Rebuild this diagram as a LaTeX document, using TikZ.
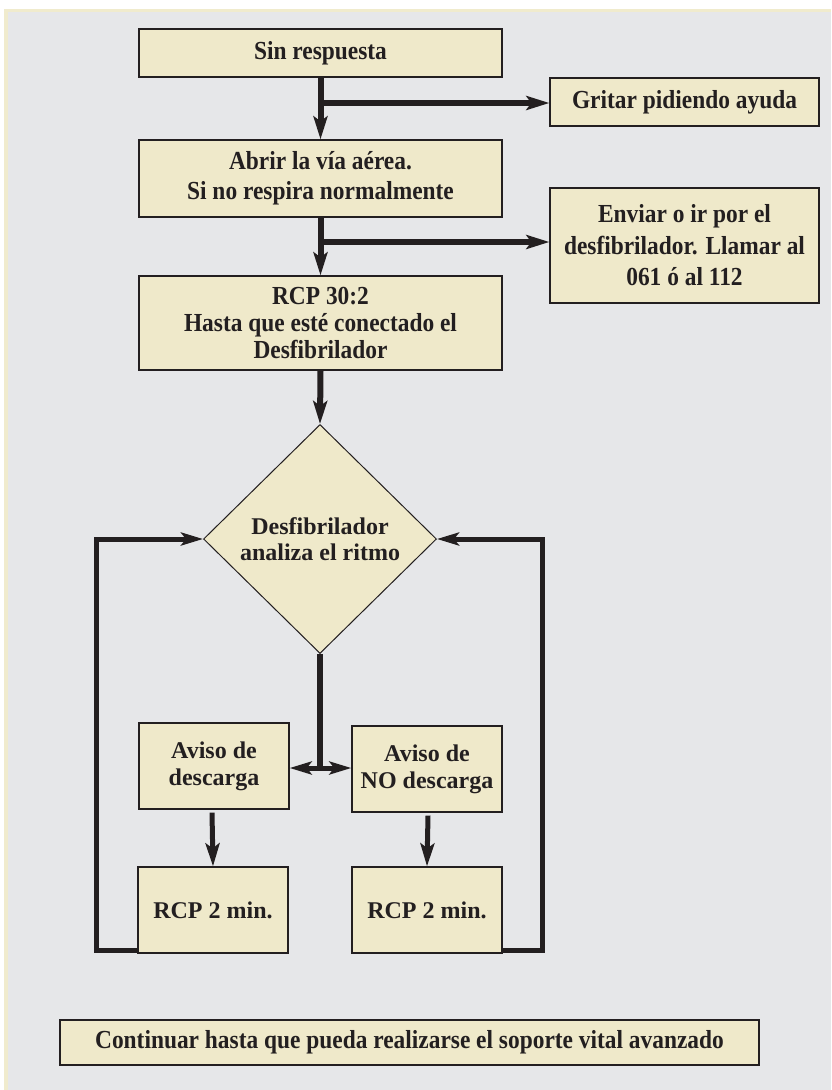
\documentclass[tikz,border=0pt]{standalone}
\usepackage{fontspec}
\setmainfont{Liberation Serif}
\newfontfamily\condfont{Liberation Serif}[FakeStretch=0.9]
\usetikzlibrary{arrows.meta,shapes.geometric,calc}
\definecolor{boxfill}{RGB}{239,233,202}
\definecolor{bgray}{RGB}{230,231,233}
\definecolor{framebeige}{RGB}{240,235,205}
\definecolor{ink}{RGB}{35,31,32}
\tikzset{
  flowbox/.style={draw=ink, line width=1.3pt, fill=boxfill, inner sep=0pt, align=center,
    font=\condfont\bfseries\fontsize{26}{30}\selectfont, text=ink},
  smallbox/.style={draw=ink, line width=1.3pt, fill=boxfill, inner sep=0pt, align=center,
    minimum width=150pt, minimum height=86pt,
    font=\bfseries\fontsize{24}{27}\selectfont, text=ink},
  decide/.style={draw=ink, line width=1pt, fill=boxfill, shape=diamond, inner sep=0pt, align=center,
    minimum width=233pt, minimum height=229pt,
    font=\bfseries\fontsize{24}{26}\selectfont, text=ink},
  flowarrow/.style={draw=ink, line width=6pt, -{Stealth[length=23pt,width=14pt,inset=5pt]}},
  flowline/.style={draw=ink, line width=6pt},
  loopline/.style={draw=ink, line width=5pt, line join=miter},
  looparrow/.style={draw=ink, line width=5pt, line join=miter, -{Stealth[length=22pt,width=13pt,inset=5pt]}},
  bothway/.style={draw=ink, line width=5pt, {Stealth[length=22pt,width=13pt,inset=5pt]}-{Stealth[length=22pt,width=13pt,inset=5pt]}},
}
\begin{document}
\begin{tikzpicture}[x=1pt,y=-1pt]
  % background
  \fill[white] (0,0) rectangle (831,1090);
  \fill[framebeige] (4,9) rectangle (831,1090);
  \fill[bgray] (8,12) rectangle (831,1090);
  \useasboundingbox (0,0) rectangle (831,1090);

  % nodes
  \node[flowbox, minimum width=363pt, minimum height=48pt] (sin) at (320.5,53) {Sin respuesta};
  \node[flowbox, minimum width=269pt, minimum height=48pt] (gritar) at (684.5,102) {Gritar pidiendo ayuda};
  \node[flowbox, minimum width=363pt, minimum height=77pt,
        font=\condfont\bfseries\fontsize{26}{30}\selectfont] (abrir) at (320.5,178.5)
        {Abrir la vía aérea.\\Si no respira normalmente};
  \node[flowbox, minimum width=269pt, minimum height=115pt,
        font=\condfont\bfseries\fontsize{26}{31.5}\selectfont] (enviar) at (684.5,245.5)
        {Enviar o ir por el\\desfibrilador. Llamar al\\061 ó al 112};
  \node[flowbox, minimum width=363pt, minimum height=94pt,
        font=\condfont\bfseries\fontsize{26}{26.7}\selectfont] (rcp) at (320.5,323)
        {RCP 30:2\\Hasta que esté conectado el\\Desfibrilador};
  \node[decide] (dec) at (320,539) {Desfibrilador\\analiza el ritmo};
  \node[smallbox] (avisoA) at (214,766) {Aviso de\\descarga};
  \node[smallbox] (avisoB) at (427,769) {Aviso de\\NO descarga};
  \node[smallbox] (rcpA) at (213,910) {RCP 2 min.};
  \node[smallbox] (rcpB) at (427,910) {RCP 2 min.};
  \node[flowbox, minimum width=699pt, minimum height=45pt] (cont) at (409.5,1042.5)
        {Continuar hasta que pueda realizarse el soporte vital avanzado};

  % junction coordinates
  \coordinate (j1) at (320.5,103);
  \coordinate (j2) at (320.5,242);
  \coordinate (j3) at (320,768);
  \coordinate (lowL) at (96,950);
  \coordinate (lowR) at (542,950);

  % connectors
  \draw[flowarrow] (sin.south) -- (abrir.north);
  \draw[flowarrow] (j1) -- (j1 -| gritar.west);
  \draw[flowarrow] (abrir.south) -- (rcp.north);
  \draw[flowarrow] (j2) -- (j2 -| enviar.west);
  \draw[flowarrow] (rcp.south) -- (dec.north);
  \draw[flowline] (dec.south) -- ($(j3)+(0,2.5)$);
  \draw[bothway] (j3 -| avisoA.east) -- (j3 -| avisoB.west);
  \draw[flowarrow, line width=5pt] ($(avisoA.south)+(-2,3)$) -- ($(rcpA.north)+(0,0)$);
  \draw[flowarrow, line width=5pt] ($(avisoB.south)+(1,3)$) -- (rcpB.north);
  \draw[looparrow] (lowL -| rcpA.west) -- (lowL) -- (lowL |- dec.west) -- (dec.west);
  \draw[looparrow] (lowR -| rcpB.east) -- (lowR) -- (lowR |- dec.east) -- (dec.east);
\end{tikzpicture}
\end{document}
